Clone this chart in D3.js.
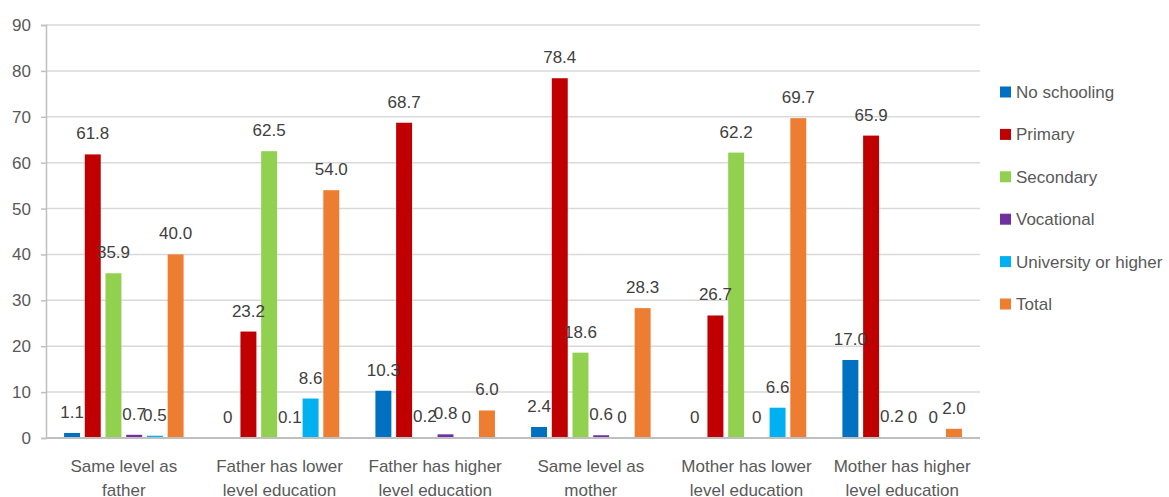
<!DOCTYPE html>
<html>
<head>
<meta charset="utf-8">
<script src="https://cdn.jsdelivr.net/npm/d3@7"></script>
<style>
  body { margin: 0; background: white; }
  svg { display: block; }
</style>
</head>
<body>
<div id="container"></div>
<script>
let w = 1169;
let h = 497;

let categories = [
  "Same level as father",
  "Father has lower level education",
  "Father has higher level education",
  "Same level as mother",
  "Mother has lower level education",
  "Mother has higher level education"
];
let seriesNames = ["No schooling", "Primary", "Secondary", "Vocational", "University or higher", "Total"];
let seriesColors = ["#0070C0", "#C00000", "#92D050", "#7030A0", "#00B0F0", "#ED7D31"];

let noSchooling = [1.1, 0, 10.3, 2.4, 0, 17.0];
let primary     = [61.8, 23.2, 68.7, 78.4, 26.7, 65.9];
let secondary   = [35.9, 62.5, 0.2, 18.6, 62.2, 0.2];
let vocational  = [0.7, 0.1, 0.8, 0.6, 0, 0];
let university  = [0.5, 8.6, 0, 0, 6.6, 0];
let total       = [40.0, 54.0, 6.0, 28.3, 69.7, 2.0];

let yTicks = [0, 10, 20, 30, 40, 50, 60, 70, 80, 90];

let seriesValues = [noSchooling, primary, secondary, vocational, university, total];

let margin = {left: 46, right: 189, top: 25, bottom: 59};
let font = "'Liberation Sans', Arial, sans-serif";
let textColor = "#595959";

let viz = d3.select("#container")
  .append("svg")
    .attr("width", w)
    .attr("height", h)
;

let x0 = d3.scaleBand()
  .domain(categories)
  .range([margin.left, w - margin.right])
  .padding(0);

let groupPad = 16;
let x1 = d3.scaleBand()
  .domain(seriesNames)
  .range([groupPad, x0.bandwidth() - groupPad])
  .paddingInner(0.23)
  .paddingOuter(0.1);

let y = d3.scaleLinear()
  .domain([0, 90])
  .range([h - margin.bottom, margin.top]);

// gridlines
viz.append("g")
  .selectAll("line")
  .data(yTicks.filter(d => d > 0))
  .join("line")
    .attr("x1", margin.left)
    .attr("x2", w - margin.right)
    .attr("y1", d => y(d))
    .attr("y2", d => y(d))
    .style("stroke", "#d9d9d9")
    .style("stroke-width", 1.5)
;

// y axis
let yAxis = viz.append("g")
  .attr("transform", "translate(" + margin.left + ",0)")
  .call(d3.axisLeft(y).tickValues(yTicks).tickSize(5).tickPadding(10));
yAxis.select(".domain").style("stroke", "#bfbfbf").style("stroke-width", 1.5);
yAxis.selectAll(".tick line").style("stroke", "#bfbfbf").style("stroke-width", 1.5);
yAxis.selectAll("text")
  .style("font-size", "17px")
  .style("font-family", font)
  .attr("fill", textColor);

// bars
let rows = [];
categories.forEach((c, i) => {
  seriesNames.forEach((s, j) => {
    rows.push({cat: c, series: s, value: seriesValues[j][i], color: seriesColors[j]});
  });
});

viz.append("g")
  .selectAll("rect")
  .data(rows)
  .join("rect")
    .attr("x", d => x0(d.cat) + x1(d.series))
    .attr("width", x1.bandwidth())
    .attr("y", d => y(d.value))
    .attr("height", d => y(0) - y(d.value))
    .attr("fill", d => d.color)
;

// value labels
viz.append("g")
  .selectAll("text")
  .data(rows)
  .join("text")
    .text(d => d.value === 0 ? "0" : d.value.toFixed(1))
    .attr("x", d => x0(d.cat) + x1(d.series) + x1.bandwidth() / 2)
    .attr("y", d => y(d.value) - 15)
    .attr("text-anchor", "middle")
    .attr("fill", "#404040")
    .style("font-size", "17px")
    .style("font-family", font)
;

// x axis line
viz.append("line")
  .attr("x1", margin.left)
  .attr("x2", w - margin.right)
  .attr("y1", y(0))
  .attr("y2", y(0))
  .style("stroke", "#bfbfbf")
  .style("stroke-width", 2)
;

// category labels, wrapped
let catLabels = viz.append("g")
  .selectAll("text")
  .data(categories)
  .join("text")
    .attr("x", d => x0(d) + x0.bandwidth() / 2)
    .attr("y", y(0) + 34)
    .attr("text-anchor", "middle")
    .attr("fill", textColor)
    .style("font-size", "17px")
    .style("font-family", font)
;

catLabels.each(function(d) {
  let el = d3.select(this);
  let words = d.split(" ");
  let lines = [];
  let line = [];
  let tmp = el.append("tspan");
  words.forEach(word => {
    line.push(word);
    tmp.text(line.join(" "));
    if (tmp.node().getComputedTextLength() > 148 && line.length > 1) {
      line.pop();
      lines.push(line.join(" "));
      line = [word];
    }
  });
  lines.push(line.join(" "));
  tmp.remove();
  lines.forEach((l, k) => {
    el.append("tspan")
      .attr("x", x0(d) + x0.bandwidth() / 2)
      .attr("dy", k === 0 ? 0 : 24)
      .text(l);
  });
});

// legend
let legend = viz.append("g")
  .selectAll("g")
  .data(seriesNames)
  .join("g")
    .attr("transform", (d, i) => "translate(1000," + (92 + i * 42.4) + ")")
;

legend.append("rect")
  .attr("x", 0)
  .attr("y", -5.5)
  .attr("width", 11)
  .attr("height", 11)
  .attr("fill", (d, i) => seriesColors[i])
;

legend.append("text")
  .text(d => d)
  .attr("x", 16)
  .attr("y", 6)
  .attr("fill", textColor)
  .style("font-size", "17px")
  .style("font-family", font)
;
</script>
</body>
</html>
